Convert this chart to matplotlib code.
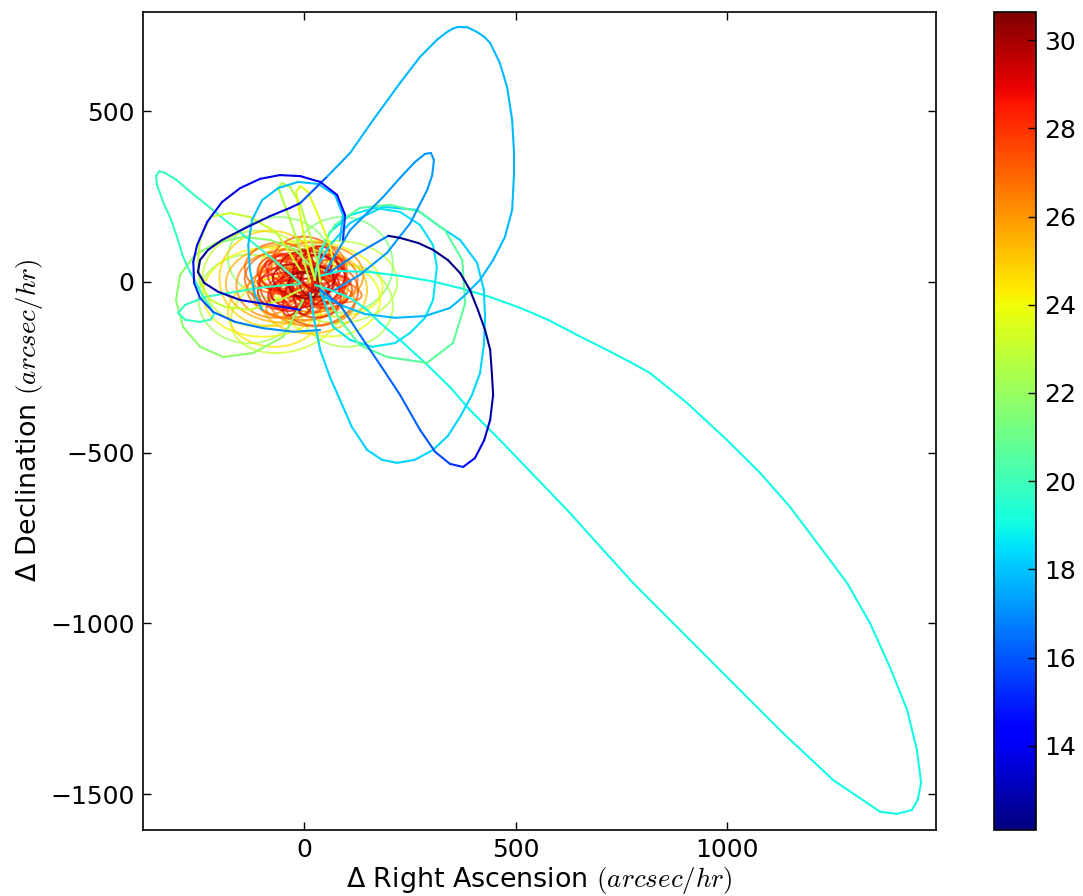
import numpy as np
import matplotlib
matplotlib.use("Agg")
import matplotlib.pyplot as plt
from matplotlib.collections import LineCollection
from matplotlib.patches import Ellipse
from matplotlib.cm import ScalarMappable
from matplotlib.colors import Normalize

plt.rcParams['font.family'] = 'DejaVu Sans'
plt.rcParams['mathtext.fontset'] = 'cm'

# rate tracks (arcsec/hr) with magnitude along each track
sweep_ra = [38, 85, 156, 227, 298, 369, 440, 511, 577, 645, 716, 770, 818, 905, 1000, 1078, 1149, 1220,
            1284, 1338, 1385, 1426, 1449, 1459, 1451, 1437, 1402, 1362, 1331, 1251, 1132, 1014, 936, 778,
            622, 463, 392, 345, 286, 227, 180, 149, 109, 61, 26]
sweep_dec = [18, 32, 29, 18, 3, -18, -44, -76, -111, -155, -199, -234, -267, -354, -463, -559, -659, -776,
             -882, -999, -1128, -1254, -1371, -1467, -1517, -1547, -1558, -1552, -1526, -1459, -1321, -1175,
             -1078, -882, -668, -463, -375, -308, -237, -170, -120, -82, -47, -23, -9]
sweep_mag = 19.0

north_ra = [-9, -80, -151, -203, -236, -251, -246, -227, -194, -139, -80, -33, -9, 54, 109, 163, 227, 274,
            314, 338, 352, 364, 386, 409, 426, 440, 463, 480, 492, 496, 496, 492, 475, 447, 416, 376, 345,
            286, 215, 144, 85, 38]
north_dec = [-82, -67, -53, -29, -3, 29, 64, 94, 123, 158, 193, 217, 231, 308, 378, 474, 583, 659, 709,
             732, 742, 747, 746, 732, 718, 700, 641, 571, 474, 387, 308, 211, 132, 64, 6, -44, -76, -100,
             -105, -94, -67, -38]
north_mag = [14.5, 13.5, 12.9, 12.7, 12.6, 12.6, 12.6, 12.7, 12.8, 13.0, 13.4, 14.5, 16.0, 17.5] + [17.8] * 28

east_ra = [199, 227, 270, 305, 340, 369, 392, 411, 428, 440, 444, 447, 440, 426, 404, 376, 345, 310,
           274, 227, 180, 132, 85, 38]
east_dec = [135, 129, 114, 94, 64, 26, -23, -82, -141, -199, -267, -331, -404, -463, -516, -542, -533,
            -498, -433, -331, -243, -155, -67, -23]
east_mag = [12.2, 12.2, 12.2, 12.2, 12.3, 12.3, 12.3, 12.4, 12.4, 12.5, 12.6, 12.8, 13.2, 13.8, 14.5,
            15.2, 15.7, 16.0, 16.2, 16.3, 16.4, 16.5, 16.5, 16.5]

spur_ra = [61, 121, 199]
spur_dec = [29, 79, 135]
spur_mag = 16.8

west_ra = [92, 97, 78, 38, -9, -57, -104, -151, -194, -229, -253, -262, -260, -246, -215, -163, -99, -26, 38]
west_dec = [123, 196, 255, 293, 310, 313, 302, 275, 234, 176, 108, 59, -3, -47, -88, -117, -135, -146, -141]
west_mag = [15.5, 14.5, 14.0, 13.8, 13.8, 13.8, 13.8, 13.8, 13.9, 14.0, 14.2, 14.6, 15.2, 15.8, 16.3,
            16.7, 17.0, 17.1, 17.2]

spike_ra = [50, 109, 187, 227, 262, 286, 300, 307, 303, 291, 251, 196, 132, 73]
spike_dec = [29, 152, 249, 305, 351, 375, 378, 357, 313, 269, 172, 85, 21, -23]
spike_mag = 17.2

ring_w_ra = [85, 92, 73, 33, -14, -61, -99, -123, -132, -128, -116, -99]
ring_w_dec = [123, 196, 255, 287, 293, 275, 240, 182, 108, 35, -38, -82]
ring_w_mag = 17.9

lobe_ra = [-9, -66, -144, -222, -270, -303, -330, -343, -350, -348, -332, -317, -300, -286, -270, -255,
           -240, -222, -213, -220, -246, -281, -298, -281, -234, -163, -92, -9]
lobe_dec = [-3, 59, 138, 217, 265, 300, 320, 324, 310, 285, 230, 190, 130, 73, 30, -3, -40, -73, -95,
            -110, -117, -111, -91, -67, -44, -29, -15, -6]
lobe_mag = 19.8

sw_ra = [-2, -50, -120, -191, -246, -286, -303, -293, -258, -208, -144, -80, -21, 14, 26]
sw_dec = [-53, -161, -208, -220, -190, -132, -53, 21, 79, 114, 132, 123, 94, 50, 6]
sw_mag = 21.8

w_ra = [-9, -66, -128, -175, -222, -246, -251, -246, -222, -187, -128, -57, -9]
w_dec = [35, 146, 190, 202, 190, 123, 59, -3, -53, -73, -82, -53, -23]
w_mag = 23.0

tall1_ra = [14, -9, -33, -52, -61, -52, -33, -9, 14, 33, 38]
tall1_dec = [0, 94, 182, 246, 275, 290, 278, 226, 138, 50, 0]
tall1_mag = 22.6

tall2_ra = [26, 2, -14, -19, -9, 9, 33, 61, 73]
tall2_dec = [6, 123, 226, 264, 281, 264, 196, 108, 35]
tall2_mag = 23.6

mint_ra = [38, 85, 132, 196, 291, 352, 381, 374, 333, 274, 203, 132, 73, 38, 26]
mint_dec = [-9, -111, -185, -220, -237, -179, -62, 64, 152, 205, 226, 217, 167, 94, 21]
mint_mag = 20.6

ring_e_ra = [38, 69, 109, 161, 215, 251, 286, 305, 314, 305, 274, 227, 168, 109, 61, 33, 26]
ring_e_dec = [-23, -132, -170, -190, -179, -149, -105, -53, 44, 108, 167, 205, 217, 196, 146, 70, 6]
ring_e_mag = 18.6

south_ra = [14, 24, 38, 61, 85, 113, 149, 184, 220, 262, 305, 340, 369, 397, 416, 425, 428, 425, 409,
            369, 322, 267, 187, 109, 61, 26]
south_dec = [-32, -111, -199, -278, -346, -425, -492, -521, -530, -521, -492, -451, -395, -331, -267,
             -185, -103, -23, 56, 123, 161, 211, 220, 173, 108, 35]
south_mag = 18.3

# faint objects: small loops close to zero rate
knot_ra = [-30, 25, -10, 40, -45, 10, -20, 30, 0, -55, 55, -15, 15, 35, -35, 60, -60, 5,
           -40, 35, -20, 10, -70, 50, -10, 40, -60, 20,
           -40, 20, -80, -90, 40, -70, 60,
           -110, 80, -40, 100, -130, 90, -60,
           0, 10, -5, 0, 5, -10, 0, 15, -15, 0]
knot_dec = [20, -10, -25, 25, -15, 35, 5, 0, -10, 30, -30, 10, -30, 40, -40, 10, 0, 50,
            10, -5, -35, 30, -10, 20, 5, -40, 40, -60,
            -5, -30, 10, -30, 10, -90, -50,
            10, 0, -90, -70, -50, 50, 70,
            0, 5, 0, -5, 0, 10, 0, -10, 5, 0]
knot_w = [110, 120, 140, 100, 120, 150, 90, 80, 70, 110, 120, 180, 130, 90, 100, 80, 90, 120,
          200, 190, 230, 170, 180, 180, 250, 160, 160, 200,
          290, 260, 240, 300, 300, 220, 240,
          260, 280, 280, 220, 240, 240, 240,
          220, 200, 210, 180, 220, 160, 190, 250, 240, 200]
knot_h = [130, 110, 100, 120, 140, 90, 110, 90, 80, 100, 90, 110, 160, 130, 90, 140, 150, 80,
          170, 160, 150, 210, 190, 170, 190, 190, 150, 140,
          230, 240, 280, 260, 210, 200, 220,
          280, 240, 220, 240, 260, 280, 240,
          60, 70, 60, 60, 70, 50, 55, 80, 70, 60]
knot_angle = [20, -30, 10, 50, -40, 0, 70, -20, 30, 0, 20, -10, 40, 0, 0, 0, 0, 0,
              0, 30, -10, 20, 0, 0, 45, -45, 0, 0,
              0, 20, 0, 10, -20, 0, 0,
              0, 0, 30, 0, 0, 0, 0,
              0, 35, 70, 110, 150, 20, 90, -15, 55, 130]
knot_mag = [28.5, 28.8, 29.2, 29.5, 28.2, 28.0, 29.8, 30.2, 30.5, 27.8, 27.6, 27.9, 28.4, 29.0, 28.7, 28.1, 27.7, 29.3,
            27.0, 26.8, 26.5, 27.2, 26.2, 26.0, 26.6, 27.4, 26.9, 26.3,
            25.5, 25.0, 24.8, 24.2, 24.0, 24.5, 23.8,
            23.0, 22.8, 23.2, 22.5, 22.2, 21.5, 21.8,
            28.6, 28.0, 29.0, 27.5, 28.3, 27.2, 29.6, 26.7, 26.4, 27.9]

cmap = plt.get_cmap('jet')
norm = Normalize(vmin=12.1, vmax=30.65)

fig = plt.figure(figsize=(10.83, 8.96), dpi=100)
ax = fig.add_axes([0.132, 0.0742, 0.7322, 0.9129])
cax = fig.add_axes([0.9178, 0.0742, 0.0388, 0.9129])


def draw_track(ra, dec, mag, lw=1.5, alpha=1.0):
    pts = np.column_stack([ra, dec]).astype(float)
    segs = np.stack([pts[:-1], pts[1:]], axis=1)
    mags = np.broadcast_to(np.asarray(mag, dtype=float), (len(ra),))[:-1]
    lc = LineCollection(segs, cmap=cmap, norm=norm, linewidths=lw, alpha=alpha,
                        capstyle='round', joinstyle='round')
    lc.set_array(mags)
    ax.add_collection(lc)


draw_track(sweep_ra, sweep_dec, sweep_mag)
draw_track(south_ra, south_dec, south_mag)
draw_track(ring_e_ra, ring_e_dec, ring_e_mag)
draw_track(mint_ra, mint_dec, mint_mag)
draw_track(sw_ra, sw_dec, sw_mag)
draw_track(lobe_ra, lobe_dec, lobe_mag)
draw_track(w_ra, w_dec, w_mag)
draw_track(tall1_ra, tall1_dec, tall1_mag)
draw_track(tall2_ra, tall2_dec, tall2_mag)
draw_track(ring_w_ra, ring_w_dec, ring_w_mag)
draw_track(spike_ra, spike_dec, spike_mag)
draw_track(north_ra, north_dec, north_mag)
draw_track(west_ra, west_dec, west_mag)
draw_track(spur_ra, spur_dec, spur_mag)
draw_track(east_ra, east_dec, east_mag)

# faint loops go on top, reddest last
order = np.argsort(knot_mag)
for i in order:
    ax.add_patch(Ellipse((knot_ra[i], knot_dec[i]), knot_w[i], knot_h[i], angle=knot_angle[i],
                         fill=False, edgecolor=cmap(norm(knot_mag[i])), lw=1.4, alpha=0.75))

ax.set_xlim(-381, 1494)
ax.set_ylim(-1604, 792)
ax.set_xticks([0, 500, 1000])
ax.set_yticks([-1500, -1000, -500, 0, 500])
ax.tick_params(direction='in', top=True, right=True, length=6, width=1, labelsize=18, pad=6)
for s in ax.spines.values():
    s.set_linewidth(1.2)
ax.set_xlabel('Δ Right Ascension $(arcsec/hr)$', fontsize=19.4, labelpad=2)
ax.set_ylabel('Δ Declination $(arcsec/hr)$', fontsize=19.4, labelpad=4)

cb = fig.colorbar(ScalarMappable(norm=norm, cmap=cmap), cax=cax)
cb.set_ticks([14, 16, 18, 20, 22, 24, 26, 28, 30])
cb.ax.tick_params(direction='in', length=6, width=1, labelsize=18, pad=6)
cb.outline.set_linewidth(1.2)

fig.savefig('out.png', dpi=100, facecolor='white')
